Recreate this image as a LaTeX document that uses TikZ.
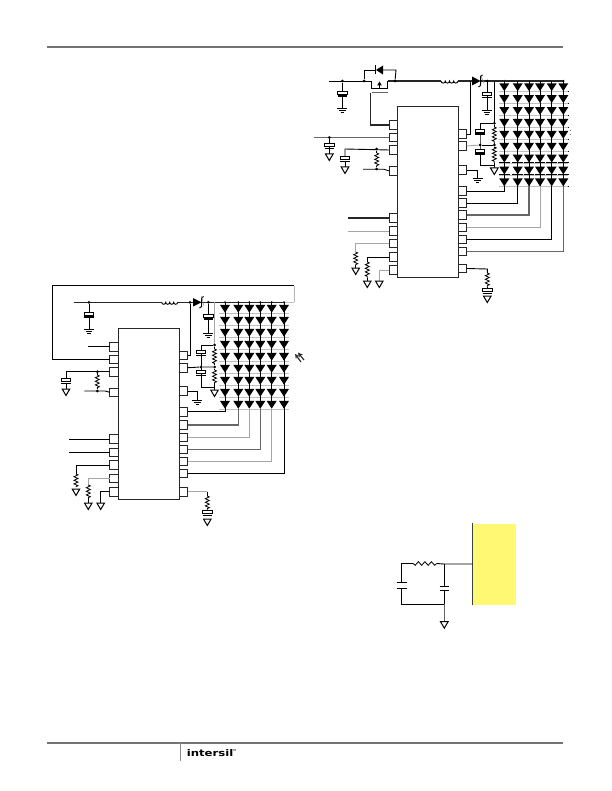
\documentclass[tikz,border=0pt]{standalone}
\usepackage{fontspec}
\setmainfont{DejaVu Sans}
\usetikzlibrary{decorations.pathmorphing}
\tikzset{
 wire/.style={draw=black,line width=0.9pt},
 thk/.style={draw=black!85,line width=1.2pt},
 gw/.style={draw=black!35,line width=0.9pt},
 ggw/.style={draw=black!60,line width=1.2pt},
 pinbox/.style={draw=black!85,line width=0.9pt,fill=white,minimum width=8.5pt,minimum height=8.5pt,inner sep=0pt,outer sep=0pt},
 icbox/.style={draw=black!85,line width=0.9pt,fill=white,inner sep=0pt,outer sep=0pt},
 jun/.style={circle,fill=black,inner sep=0pt,minimum size=3pt},
 zig/.style={draw=black,line width=0.8pt,decorate,decoration={zigzag,amplitude=2pt,segment length=3.6pt}}
}
\newcommand{\vresistor}[3]{\draw[zig] (#1,#2) -- (#1,#3);}
\newcommand{\vcapac}[2]{\draw[wire,fill=white] (#1-4.8,#2-2.5) rectangle (#1+4.8,#2+0.5);\draw[line width=1.1pt,black] (#1-4.8,#2+2.5) -- (#1+4.8,#2+2.5);}
\newcommand{\gndsym}[2]{\draw[line width=0.9pt,black] (#1-5,#2) -- (#1+5,#2) (#1-3.3,#2+2) -- (#1+3.3,#2+2) (#1-1.6,#2+4) -- (#1+1.6,#2+4);}
\newcommand{\trisym}[2]{\draw[line width=1pt,black,fill=white] (#1-3.8,#2) -- (#1+3.8,#2) -- (#1,#2+6.5) -- cycle;}
\newcommand{\ledsym}[2]{\fill[black] (#1-5,#2-3.4) -- (#1+5,#2-3.4) -- (#1,#2+4.4) -- cycle;\draw[line width=1pt,black] (#1-5.4,#2+4.9) -- (#1+5.4,#2+4.9);}
\newcommand{\inductor}[3]{\draw[wire] (#1,#3) arc[start angle=180,end angle=0,radius=#2/8] arc[start angle=180,end angle=0,radius=#2/8] arc[start angle=180,end angle=0,radius=#2/8] arc[start angle=180,end angle=0,radius=#2/8];}
\begin{document}
\begin{tikzpicture}[x=1pt,y=-1pt]
\useasboundingbox (0,0) rectangle (611,791);
\fill[white] (0,0) rectangle (611,791);
% header and footer
\draw[black!55,line width=1.1pt] (47,47) -- (563,47);
\draw[black!55,line width=1.1pt] (47,743) -- (563,743);
\draw[black!45,line width=0.5pt] (180,743) -- (180,761);
\node[anchor=west,inner sep=0pt,transform shape,xscale=1.27,font=\bfseries\fontsize{9.2}{10}\selectfont] (logo) at (186.5,753) {intersil};
\node[anchor=west,inner sep=0pt,font=\fontsize{2.5}{3}\selectfont] (tm) at (232.5,750.5) {TM};

%% ============ TOP CIRCUIT ============
\foreach \cx in {504.3,517.7,529,540,551.7,563.3}{
  \foreach \ry in {86.7,98.6,110.5,122.4,134.3,146.2,158.1,170,181.9}{
    \ledsym{\cx}{\ry}
  }
}
\foreach \ry in {91.6,103.5,115.4,127.3,139.2,151.1,163,174.9,186.8}{
  \draw[black!25,line width=0.7pt] (499,\ry) -- (568,\ry);
}
\foreach \cx in {504.3,517.7,529,540,551.7,563.3}{\node[jun,minimum size=2.4pt] at (\cx,81) {};}
\node[icbox,minimum width=60.6pt,minimum height=170.6pt] (icA) at (428,192) {};
\foreach \n/\y in {1/125,2/137.5,3/150,4/171,5/218,6/231,7/243.5,8/257,9/270}{
  \node[pinbox] (al\n) at (393.5,\y) {};
}
\foreach \n/\y in {1/134,2/146,3/170,4/191,5/203,6/215,7/227.5,8/239.5,9/251.5,10/268.5}{
  \node[pinbox] (ar\n) at (462.5,\y) {};
}
% top rail
\coordinate (aS) at (329,81);
\draw[wire] (aS) -- (371.5,81);
\draw[thk] (387.5,81) -- (441,81);
\draw[thk] (458,81) -- (472,81);
\draw[thk] (480,81) -- (563.3,81);
\inductor{441}{17}{81}
\fill[black] (472,76.5) -- (480.5,81) -- (472,85.5) -- cycle;
\draw[line width=1pt,black] (480.5,76.5) -- (480.5,85.5) (480.5,76.5) -- (482.5,75) (480.5,85.5) -- (478.5,87);
\draw[black!45,line width=0.5pt] (480.5,75) -- (484,83);
\node[jun] (aj1) at (342.3,81) {};
\node[jun] (aj2) at (364,81) {};
\node[jun] (aj3) at (395,81) {};
\node[jun] (aj4) at (487,81) {};
% input cap
\draw[wire] (aj1) -- (342.3,108);
\vcapac{342.3}{93.5}
\gndsym{342.3}{108}
% bypass diode and FET
\draw[wire] (aj2) -- (364,70) -- (376,70);
\draw[wire] (383,70) -- (396,70) -- (aj3);
\fill[black] (383,65.5) -- (383,74.5) -- (376,70) -- cycle;
\draw[line width=1.1pt,black] (375.5,65.5) -- (375.5,74.5);
\draw[black!60,line width=1.4pt] (371.5,92.7) -- (387.5,92.7);
\draw[wire] (371.5,81) -- (371.5,88.5) -- (387.5,88.5) -- (387.5,81);
\fill[black] (379.5,81.5) -- (377.2,85.5) -- (381.8,85.5) -- cycle;
\draw[wire] (379.5,85) -- (379.5,88.5);
\draw[thk] (370.7,92.7) -- (370.7,125) -- (al1.west);
% right of IC A
\draw[wire] (ar1.east) -- (470,134) -- (470,81);
\draw[wire] (487,81) -- (487,110);
\vcapac{487}{95}
\gndsym{487}{110}
\draw[wire] (494.3,81) -- (494.3,123.3);
\node[jun] (aj5) at (494.3,123.3) {};
\node[jun] (aj6) at (494.3,145) {};
\node[jun] (aj7) at (480,145) {};
\vresistor{494.3}{127}{143}
\vresistor{494.3}{147}{163}
\draw[wire] (aj5) -- (494.3,127) (494.3,143) -- (aj6) -- (494.3,147) (494.3,163) -- (494.3,168);
\trisym{494.3}{168}
\draw[wire] (aj5) -- (480,123.3) -- (480,145) -- (480,165) -- (494.3,165);
\vcapac{480}{131.5}
\vcapac{480}{151.5}
\draw[gw] (ar2.east) -- (aj7);
\draw[wire] (aj7) -- (aj6);
\draw[wire] (ar3.east) -- (477.5,170) -- (477.5,178);
\gndsym{477.5}{178}
% LED columns
\foreach \n/\cx/\st in {4/504.3/wire,5/517.7/wire,6/529/ggw,7/540/gw,8/551.7/wire,9/563.3/ggw}{
  \draw[\st] (ar\n.east) -| (\cx,186);
}
\draw[black,line width=0.7pt] (504.3,81) -- (504.3,186) (517.7,81) -- (517.7,186) (529,81) -- (529,186) (540,81) -- (540,186) (551.7,81) -- (551.7,186) (563.3,81) -- (563.3,186);
% left of IC A
\coordinate (aIn) at (314,137.5);
\draw[ggw] (aIn) -- (al2.west);
\node[jun] (aj8) at (329.3,137.5) {};
\draw[wire] (aj8) -- (329.3,154);
\vcapac{329.3}{146}
\trisym{329.3}{154}
\draw[wire] (al3.west) -- (345,149) -- (345,159);
\vcapac{345}{159}
\draw[wire] (345,162) -- (345,167);
\trisym{345}{167}
\node[jun] (aj9) at (376.7,149) {};
\node[jun] (aj10) at (376.7,169) {};
\vresistor{376.7}{153}{166}
\draw[wire] (aj9) -- (376.7,153) (376.7,166) -- (aj10);
\coordinate (aI2) at (363,169.3);
\draw[wire] (aI2) -- (384,169.3) -- (al4.west);
\coordinate (aI3) at (348,218);
\coordinate (aI4) at (348,231);
\draw[thk] (aI3) -- (al5.west);
\draw[gw] (aI4) -- (al6.west);
\draw[gw] (al7.west) -- (355.7,243.5) -- (355.7,252);
\vresistor{355.7}{252}{265}
\draw[wire] (355.7,265) -- (355.7,268);
\trisym{355.7}{268}
\draw[wire] (al8.west) -- (367.3,257) -- (367.3,262);
\vresistor{367.3}{262}{278}
\draw[wire] (367.3,278) -- (367.3,281);
\trisym{367.3}{281}
\draw[gw] (al9.west) -- (379.3,270) -- (379.3,281);
\trisym{379.3}{281}
\draw[wire] (ar10.east) -- (487.3,269) -- (487.3,273);
\vresistor{487.3}{273}{287}
\draw[wire] (487.3,287) -- (487.3,290);
\vcapac{487.3}{291}
\trisym{487.3}{296}
\draw[black!50,line width=0.7pt] (569.5,130) -- (570.5,130) (569.5,134) -- (570.5,134);

%% ============ LEFT CIRCUIT ============
\foreach \cx in {225,238.3,249.3,260.3,271.7,284}{
  \foreach \ry in {308.3,320.3,332.3,344.3,356.3,368.3,380.3,392.3,404.3}{
    \ledsym{\cx}{\ry}
  }
}
\foreach \ry in {313.2,325.2,337.2,349.2,361.2,373.2,385.2,397.2,409.2}{
  \draw[black!25,line width=0.7pt] (219,\ry) -- (289,\ry);
}
\foreach \cx in {225,238.3,249.3,260.3,271.7,284}{\node[jun,minimum size=2.4pt] at (\cx,302.3) {};}
\node[icbox,minimum width=61pt,minimum height=170.7pt] (icB) at (148.8,413.7) {};
\foreach \n/\y in {1/346.7,2/359.5,3/371.7,4/392.3,5/439,6/452.3,7/465,8/478.3,9/491.7}{
  \node[pinbox] (bl\n) at (114,\y) {};
}
\foreach \n/\y in {1/355.3,2/367.7,3/391,4/411.7,5/425,6/437.3,7/449.3,8/461.3,9/473.3,10/491.7}{
  \node[pinbox] (br\n) at (183.5,\y) {};
}
% enable loop
\draw[wire] (bl2.west) -- (52.3,359.5) -- (52.3,285.7) -- (294,285.7);
\draw[black!30,line width=0.8pt] (294,285.7) -- (294,302.3);
% rail
\coordinate (bS) at (74.3,302.3);
\draw[thk] (bS) -- (161.7,302.3);
\draw[thk] (177.7,302.3) -- (193,302.3);
\draw[thk] (201,302.3) -- (284,302.3);
\inductor{161.7}{16}{302.3}
\fill[black] (193,298) -- (201.5,302.3) -- (193,306.5) -- cycle;
\draw[line width=1pt,black] (201.5,298) -- (201.5,306.5) (201.5,298) -- (203.5,296.5) (201.5,306.5) -- (199.5,308);
\draw[black!40,line width=0.5pt] (201.5,296) -- (204,306);
\draw[black!25,line width=0.8pt] (284,302.3) -- (294,302.3);
\node[jun] (bj1) at (89,302.3) {};
\node[jun] (bj2) at (190,302.3) {};
\node[jun] (bj3) at (208.3,302.3) {};
\draw[wire] (bj1) -- (89,329);
\vcapac{89}{314.5}
\gndsym{89}{329}
\draw[wire] (br1.east) -- (190,355.3) -- (bj2);
\draw[wire] (bj3) -- (208.3,333);
\vcapac{208.3}{316.5}
\gndsym{208.3}{333}
\draw[gw] (214.5,302.3) -- (214.5,345);
\node[jun] (bj5) at (214.5,345) {};
\node[jun] (bj6) at (214.5,367) {};
\node[jun] (bj7) at (201,367) {};
\vresistor{214.5}{349}{364}
\vresistor{214.5}{370}{384}
\draw[wire] (bj5) -- (214.5,349) (214.5,364) -- (bj6) -- (214.5,370) (214.5,384) -- (214.5,390);
\trisym{214.5}{390}
\draw[wire] (bj5) -- (201,345) -- (201,387) -- (214.5,387);
\vcapac{201}{353}
\vcapac{201}{373}
\draw[wire] (br2.east) -- (bj7) -- (bj6);
\draw[wire] (br3.east) -- (197.3,391) -- (197.3,400);
\gndsym{197.3}{400}
% LED columns
\foreach \n/\cx/\st in {4/225/wire,5/238.3/ggw,6/249.3/gw,7/260.3/ggw,8/271.7/gw,9/284/wire}{
  \draw[\st] (br\n.east) -| (\cx,408);
}
\draw[black,line width=0.7pt] (225,302.3) -- (225,408) (238.3,302.3) -- (238.3,408) (249.3,302.3) -- (249.3,408) (260.3,302.3) -- (260.3,408) (271.7,302.3) -- (271.7,408) (284,302.3) -- (284,408);
% LED light arrows
\draw[black!85,line width=1.1pt,-stealth] (301,362) -- (295,354);
\draw[black!85,line width=1.1pt,-stealth] (304,360) -- (298,352.5);
% left of IC B
\coordinate (bI1) at (88.3,346.7);
\draw[wire] (bI1) -- (bl1.west);
\draw[wire] (bl3.west) -- (66,371.7) -- (66,381);
\vcapac{66}{381}
\draw[wire] (66,384) -- (66,389);
\trisym{66}{389}
\node[jun] (bj9) at (97.3,371.7) {};
\node[jun] (bj10) at (97.3,391) {};
\vresistor{97.3}{375}{388}
\draw[wire] (bj9) -- (97.3,375) (97.3,388) -- (bj10);
\coordinate (bI2) at (84.3,391);
\draw[wire] (bI2) -- (105,391) -- (bl4.west);
\coordinate (bI3) at (69.3,439);
\coordinate (bI4) at (69.3,452.3);
\draw[wire] (bI3) -- (bl5.west);
\draw[wire] (bI4) -- (bl6.west);
\draw[wire] (bl7.west) -- (76,465) -- (76,474);
\vresistor{76}{474}{487}
\trisym{76}{489}
\draw[gw] (bl8.west) -- (88.3,478.3) -- (88.3,485);
\vresistor{88.3}{485}{498}
\draw[wire] (88.3,498) -- (88.3,503);
\trisym{88.3}{503}
\draw[wire] (bl9.west) -- (100.7,491.7) -- (100.7,503);
\trisym{100.7}{503}
\draw[gw] (br10.east) -- (207.3,491.7);
\draw[wire] (207.3,491.7) -- (207.3,496);
\vresistor{207.3}{496}{510}
\draw[wire] (207.3,510) -- (207.3,512);
\vcapac{207.3}{513}
\trisym{207.3}{519}

%% ============ FILTER ============
\node[fill=yellow!55,draw=none,minimum width=43.5pt,minimum height=81pt,inner sep=0pt,anchor=north west] (chip) at (472.7,523.3) {};
\draw[line width=0.8pt,black!75] (472.5,523.3) -- (472.5,605);
\coordinate (fT) at (472.5,564);
\coordinate (fA) at (444.3,564);
\coordinate (fL) at (401.7,563.3);
\coordinate (fB) at (444.3,604.3);
\coordinate (fC) at (401.7,604.3);
\draw[wire] (fT) -- (fA) -- (436.7,563.5);
\draw[line width=0.8pt,black,decorate,decoration={snake,amplitude=1.8pt,segment length=6.5pt}] (436.7,563.5) -- (410.7,563.5);
\draw[wire] (410.7,563.3) -- (fL) -- (401.7,582);
\draw[wire] (396.5,582) -- (406.5,582) (396.5,588.3) -- (406.5,588.3);
\draw[wire] (401.7,588.3) -- (fC) -- (fB);
\draw[wire] (fA) -- (444.3,586);
\draw[wire] (439.5,586) -- (449,586) (439.5,590) -- (449,590);
\draw[wire] (444.3,590) -- (fB);
\draw[ggw] (fB) -- (444.3,621.7);
\trisym{444.3}{621.7}
\end{tikzpicture}
\end{document}
